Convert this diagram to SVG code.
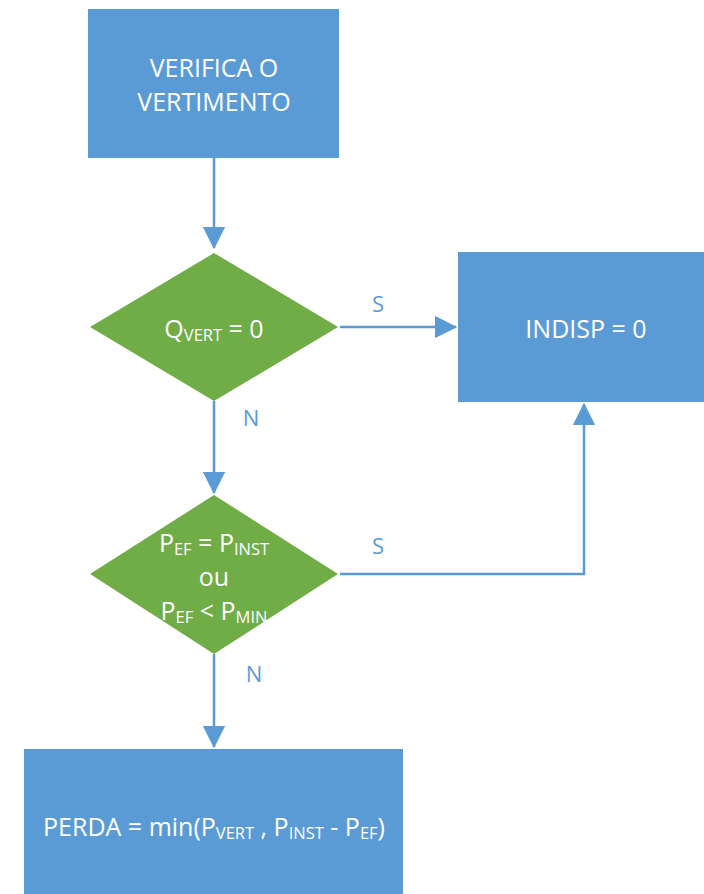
<svg xmlns="http://www.w3.org/2000/svg" width="704" height="894" viewBox="0 0 704 894">
  <style>
    .proc { fill: #5B9BD5; }
    .dec { fill: #70AD47; }
    .lbl { font-family: "Open Sans", "Liberation Sans", sans-serif; font-size: 25px; fill: #FFFFFF; text-anchor: middle; }
    .sub { font-size: 16.5px; }
    .edge { font-family: "Open Sans", "Liberation Sans", sans-serif; font-size: 22px; fill: #5B9BD5; text-anchor: middle; }
    .wire { fill: none; stroke: #5B9BD5; stroke-width: 2.5; }
  </style>
  <defs>
    <marker id="arrow" markerWidth="9" markerHeight="9" refX="8.5" refY="4.5" orient="auto" markerUnits="strokeWidth">
      <path d="M0,0 L9,4.5 L0,9 Z" fill="#5B9BD5"/>
    </marker>
  </defs>
  <rect width="704" height="894" fill="#FFFFFF"/>

  <!-- connectors -->
  <g id="connectors">
    <path class="wire" d="M214,158 V248" marker-end="url(#arrow)"/>
    <path class="wire" d="M340,327 H456" marker-end="url(#arrow)"/>
    <path class="wire" d="M214,401 V493" marker-end="url(#arrow)"/>
    <path class="wire" d="M340,574 H584 V404" marker-end="url(#arrow)"/>
    <path class="wire" d="M214,654 V747" marker-end="url(#arrow)"/>
    <text class="edge" x="378" y="312">S</text>
    <text class="edge" x="251" y="426">N</text>
    <text class="edge" x="378" y="554">S</text>
    <text class="edge" x="254" y="682">N</text>
  </g>

  <g id="verifica">
    <rect class="proc" x="88" y="9" width="251" height="149"/>
    <text class="lbl" x="214" y="77">VERIFICA O</text>
    <text class="lbl" x="214" y="111">VERTIMENTO</text>
  </g>

  <g id="qvert">
    <polygon class="dec" points="214,253 338,327 214,401 90,327"/>
    <text class="lbl" x="214" y="338">Q<tspan class="sub" dy="3">VERT</tspan><tspan dy="-3"> = 0</tspan></text>
  </g>

  <g id="indisp">
    <rect class="proc" x="458" y="252" width="256" height="150"/>
    <text class="lbl" x="586" y="338">INDISP = 0</text>
  </g>

  <g id="pef">
    <polygon class="dec" points="214,495 338,574 214,654 90,574"/>
    <text class="lbl" x="214" y="552">P<tspan class="sub" dy="3">EF</tspan><tspan dy="-3"> = P</tspan><tspan class="sub" dy="3">INST</tspan></text>
    <text class="lbl" x="214" y="586">ou</text>
    <text class="lbl" x="214" y="620">P<tspan class="sub" dy="3">EF</tspan><tspan dy="-3"> &lt; P</tspan><tspan class="sub" dy="3">MIN</tspan></text>
  </g>

  <g id="perda">
    <rect class="proc" x="24" y="749" width="379" height="150"/>
    <text class="lbl" x="214" y="836">PERDA = min(P<tspan class="sub" dy="3">VERT</tspan><tspan dy="-3"> , P</tspan><tspan class="sub" dy="3">INST</tspan><tspan dy="-3"> - P</tspan><tspan class="sub" dy="3">EF</tspan><tspan dy="-3">)</tspan></text>
  </g>
</svg>
